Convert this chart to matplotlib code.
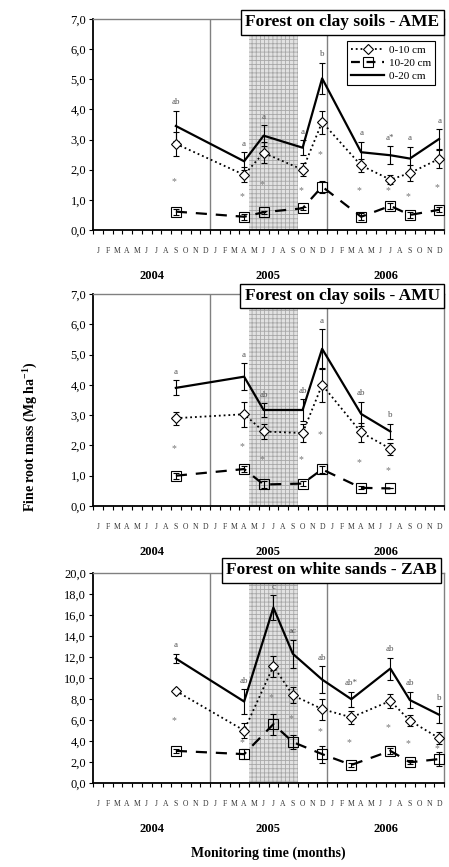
import numpy as np
import matplotlib.pyplot as plt
from matplotlib.lines import Line2D
from matplotlib import transforms

plt.rcParams['font.family'] = ['Liberation Serif', 'DejaVu Serif']
plt.rcParams['mathtext.fontset'] = 'custom'
plt.rcParams['mathtext.rm'] = 'Liberation Serif:bold'
plt.rcParams['mathtext.bf'] = 'Liberation Serif:bold'
plt.rcParams['hatch.linewidth'] = 0.6

# Meses de muestreo (0 = enero 2004)
meses = ['J', 'F', 'M', 'A', 'M', 'J', 'J', 'A', 'S', 'O', 'N', 'D'] * 3
anios = ['2004', '2005', '2006']

# AME - forest on clay soils
ame_m = [8, 15, 17, 21, 23, 27, 30, 32, 35]
ame_010 = [2.86, 1.83, 2.56, 2.00, 3.58, 2.14, 1.67, 1.89, 2.36]
ame_010_err = [0.40, 0.25, 0.35, 0.22, 0.38, 0.22, 0.15, 0.25, 0.30]
ame_1020 = [0.61, 0.44, 0.59, 0.72, 1.44, 0.44, 0.80, 0.50, 0.67]
ame_1020_err = [0.10, 0.10, 0.05, 0.05, 0.20, 0.12, 0.10, 0.10, 0.08]
ame_020 = [3.45, 2.28, 3.13, 2.73, 5.03, 2.58, 2.48, 2.37, 3.02]
ame_020_err = [0.50, 0.30, 0.35, 0.25, 0.52, 0.35, 0.30, 0.40, 0.32]
ame_letras = ['ab', 'a', 'a', 'a', 'b', 'a', 'a*', 'a', 'a']
ame_ast = [1.6, 1.1, 1.5, 1.3, 2.5, 1.3, 1.3, 1.1, 1.4]

# AMU - forest on clay soils
amu_m = [8, 15, 17, 21, 23, 27, 30]
amu_010 = [2.90, 3.03, 2.46, 2.41, 4.00, 2.43, 1.89]
amu_010_err = [0.22, 0.42, 0.25, 0.30, 0.55, 0.32, 0.20]
amu_1020 = [1.00, 1.22, 0.71, 0.74, 1.21, 0.60, 0.58]
amu_1020_err = [0.10, 0.10, 0.10, 0.08, 0.12, 0.05, 0.0]
amu_020 = [3.90, 4.27, 3.17, 3.17, 5.19, 3.04, 2.46]
amu_020_err = [0.25, 0.45, 0.22, 0.35, 0.65, 0.40, 0.25]
amu_letras = ['a', 'a', 'ab', 'ab', 'a', 'ab', 'b']
amu_ast = [1.89, 1.97, 1.52, 1.52, 2.37, 1.43, 1.17]

# ZAB - forest on white sands
zab_m = [8, 15, 18, 20, 23, 26, 30, 32, 35]
zab_010 = [8.77, 5.00, 11.13, 8.36, 7.04, 6.25, 7.82, 5.94, 4.27]
zab_010_err = [0.20, 0.70, 1.00, 0.75, 1.00, 0.60, 0.70, 0.55, 0.60]
zab_1020 = [3.06, 2.75, 5.60, 3.90, 2.75, 1.72, 3.06, 1.97, 2.28]
zab_1020_err = [0.20, 0.50, 1.00, 0.70, 0.80, 0.20, 0.30, 0.20, 0.70]
zab_020 = [11.85, 7.76, 16.70, 12.30, 9.85, 7.98, 10.90, 7.90, 6.50]
zab_020_err = [0.45, 1.15, 1.20, 1.35, 1.30, 0.70, 1.05, 0.80, 0.80]
zab_letras = ['a', 'ab', 'c', 'ac', 'ab', 'ab*', 'ab', 'ab', 'b']
zab_ast = [5.9, 3.8, 8.1, 6.1, 4.85, 3.8, 5.25, 3.75, 3.3]

# periodo seco sombreado (mayo - septiembre 2005)
seco_ini, seco_fin = 16, 21


def pintar_panel(ax, m, s010, e010, s1020, e1020, s020, e020, letras, ast,
                 titulo, ymax, ypaso, titulo_x, titulo_y, leyenda=False):
    x = np.array(m) + 0.5
    ax.axvspan(seco_ini, seco_fin, facecolor='#e2e2e2', edgecolor='#a8a8a8',
               hatch='++++', lw=0, zorder=0)
    for xv in [12, 24]:
        ax.axvline(xv, color='#808080', lw=1, zorder=1)

    ax.plot(x, s010, ':', color='black', lw=1.3, marker='D', ms=5.5,
            mfc='white', mec='black', mew=0.8, zorder=4)
    ax.plot(x, s1020, '--', color='black', lw=1.6, dashes=(5, 4),
            marker='s', ms=7, mfc='none', mec='black', mew=0.8, zorder=4)
    ax.plot(x, s020, '-', color='black', lw=1.6, zorder=4)
    for y, e in [(s010, e010), (s1020, e1020), (s020, e020)]:
        ax.errorbar(x, y, yerr=e, fmt='none', ecolor='black', elinewidth=0.8,
                    capsize=2.5, capthick=0.8, zorder=3)

    # letras sobre la barra de error de 0-20 cm
    for xi, yi, ei, le in zip(x, s020, e020, letras):
        ax.text(xi, yi + ei + 0.04 * ymax, le, ha='center', va='center',
                fontsize=6.5, color='#555555')
    for xi, yi in zip(x, ast):
        ax.text(xi - 0.2, yi, '*', ha='center', va='center', fontsize=7,
                color='#777777')

    ax.set_xlim(0, 36)
    ax.set_ylim(0, ymax)
    ax.set_yticks(np.arange(0, ymax + 0.01, ypaso))
    ax.set_yticklabels([f'{v:.1f}'.replace('.', ',') for v in
                        np.arange(0, ymax + 0.01, ypaso)], fontsize=9)
    ax.set_xticks(np.arange(37))
    ax.set_xticklabels([])
    ax.tick_params(axis='both', direction='out', length=3, width=0.8)
    ax.tick_params(axis='y', pad=2)
    for lado in ['left', 'bottom']:
        ax.spines[lado].set_linewidth(1.3)
    for lado in ['top', 'right']:
        ax.spines[lado].set_color('#808080')
        ax.spines[lado].set_linewidth(1)

    trans = transforms.blended_transform_factory(ax.transData, ax.transAxes)
    alto = ax.get_position().height * 867
    for i, mes in enumerate(meses):
        ax.text(i + 0.5, -21 / alto, mes, transform=trans, ha='center',
                va='center', fontsize=5.5, color='#333333')
    for i, an in enumerate(anios):
        ax.text(12 * i + 6, -46 / alto, an, transform=trans, ha='center',
                va='center', fontsize=9, fontweight='bold')

    ax.text(titulo_x, titulo_y, titulo, transform=ax.transAxes, ha='center',
            va='center', fontsize=12.5, fontweight='bold', zorder=10,
            bbox=dict(boxstyle='square,pad=0.25', fc='white', ec='black', lw=1))

    if leyenda:
        h = [Line2D([], [], ls=':', color='black', lw=1.3, marker='D', ms=5,
                    mfc='white', mec='black', mew=0.8),
             Line2D([], [], ls='--', dashes=(4, 3), color='black', lw=1.6,
                    marker='s', ms=6.5, mfc='none', mec='black', mew=0.8),
             Line2D([], [], ls='-', color='black', lw=1.6)]
        leg = ax.legend(h, ['0-10 cm', '10-20 cm', '0-20 cm'], loc='upper right',
                        bbox_to_anchor=(0.99, 0.92), fontsize=8,
                        handlelength=3.0, handletextpad=0.4, borderpad=0.35,
                        labelspacing=0.3, fancybox=False, framealpha=1,
                        edgecolor='black')
        leg.get_frame().set_linewidth(0.8)
        leg.set_zorder(10)


fig = plt.figure(figsize=(4.49, 8.67), dpi=100)
izq = 93 / 449
ancho = 351 / 449
ax1 = fig.add_axes([izq, 1 - 230 / 867, ancho, 211 / 867])
ax2 = fig.add_axes([izq, 1 - 506 / 867, ancho, 212 / 867])
ax3 = fig.add_axes([izq, 1 - 783 / 867, ancho, 210 / 867])

pintar_panel(ax1, ame_m, ame_010, ame_010_err, ame_1020, ame_1020_err,
             ame_020, ame_020_err, ame_letras, ame_ast,
             'Forest on clay soils - AME', 7, 1, 0.71, 0.985, leyenda=True)
pintar_panel(ax2, amu_m, amu_010, amu_010_err, amu_1020, amu_1020_err,
             amu_020, amu_020_err, amu_letras, amu_ast,
             'Forest on clay soils - AMU', 7, 1, 0.71, 0.99)
pintar_panel(ax3, zab_m, zab_010, zab_010_err, zab_1020, zab_1020_err,
             zab_020, zab_020_err, zab_letras, zab_ast,
             'Forest on white sands - ZAB', 20, 2, 0.68, 1.012)

fig.text(30 / 449, 1 - 437 / 867, 'Fine root mass (Mg ha$^{-1}$)',
         rotation=90, ha='center', va='center', fontsize=10, fontweight='bold')
fig.text(izq + ancho / 2, 1 - 853 / 867,
         'Monitoring time (months)', ha='center', va='center', fontsize=10,
         fontweight='bold')

fig.savefig('out.png', dpi=100)
